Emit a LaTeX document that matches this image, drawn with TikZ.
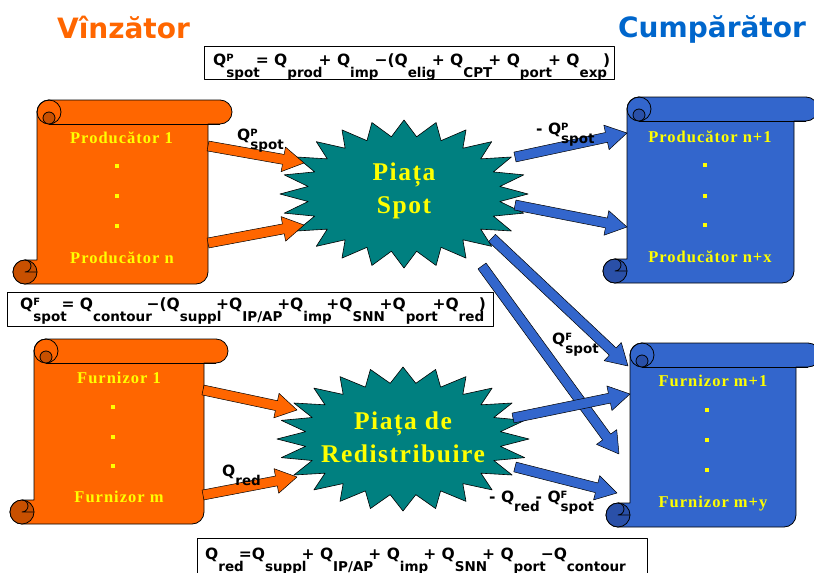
\documentclass[tikz,border=0pt]{standalone}
\usepackage{fontspec}
\setmainfont{Liberation Serif}
\newfontfamily\vsans{DejaVu Sans}
\newfontfamily\sertxt[LetterSpace=6]{Liberation Serif}
\usetikzlibrary{calc}
\definecolor{orng}{HTML}{FF6600}
\definecolor{orngdk}{HTML}{C85000}
\definecolor{blu}{HTML}{3366CC}
\definecolor{bludk}{HTML}{2A50A8}
\definecolor{titleblue}{HTML}{0066CC}
\definecolor{tealc}{HTML}{008080}
\definecolor{yel}{HTML}{FFFF00}
\newlength\sublow
\newlength\subkern
\setlength\subkern{4pt}
\newcommand\formfont{\vsans\bfseries\fontsize{15.5}{18}\selectfont\setlength\sublow{12pt}}
\newcommand\labfont{\vsans\bfseries\fontsize{15.5}{18}\selectfont\setlength\sublow{9pt}}
\newcommand\QQ[2]{Q\rlap{\raisebox{4pt}{\fontsize{10}{10}\selectfont#1}}\raisebox{-\sublow}{\fontsize{13.5}{14}\selectfont#2}\kern-\subkern\relax}
% scroll: #1 L, #2 T, #3 R, #4 B, #5 fill, #6 dark
\newcommand\scroll[6]{%
 \draw[fill=#5, line width=0.8pt] ({#1+24},{#2+12}) arc[start angle=-180, end angle=-90, radius=12] -- ({#3-12},#2) arc[start angle=-90, end angle=90, radius=12] -- ({#3-24},{#2+24}) -- ({#3-24},{#4-12}) arc[start angle=0, end angle=90, radius=12] -- ({#1+12},#4) arc[start angle=90, end angle=270, radius=12] -- ({#1+24},{#4-24}) -- cycle;
 \draw[line width=0.8pt] ({#1+36},{#2+12}) circle[radius=12];
 \draw[line width=0.8pt] ({#1+36},{#2+24}) -- ({#3-12},{#2+24});
 \draw[fill=#6, line width=0.8pt] ({#1+36},{#2+18}) circle[radius=6];
 \draw[fill=#6, line width=0.8pt] ({#1+12},{#4-12}) circle[radius=12];
 \draw[line width=0.8pt] ({#1+12},{#4-24}) arc[start angle=-90, end angle=90, radius=6] -- ({#1+24},{#4-12});
}
\newcommand\burst[4]{\draw[fill=tealc, line width=0.6pt] plot[samples at={0,...,47}, variable=\k] ({#1+#3*(1-0.22*mod(\k,2))*cos(90+7.5*\k)}, {#2-#4*(1-0.22*mod(\k,2))*sin(90+7.5*\k)}) -- cycle;}
\newcommand\barrow[3]{%
 \draw[fill=#3, draw=black, line width=0.5pt] let \p1=($(#2)-(#1)$), \n1={atan2(\y1,\x1)}, \n2={veclen(\x1,\y1)} in [shift={(#1)}, rotate=\n1] (0,-5) -- ({\n2-21},-5) -- ({\n2-21},-12.5) -- (\n2,0) -- ({\n2-21},12.5) -- ({\n2-21},5) -- (0,5) -- cycle;}
\tikzset{
 ttl/.style={font=\vsans\bfseries\fontsize{28}{30}\selectfont, anchor=base, inner sep=0},
 scrtxt/.style={font=\sertxt\bfseries\fontsize{16.5}{18}\selectfont, text=yel, anchor=base, inner sep=0},
 sqdot/.style={fill=yel, minimum size=4.5pt, inner sep=0},
 startxt/.style={font=\sertxt\bfseries\fontsize{25.5}{30}\selectfont, text=yel, anchor=base, inner sep=0},
 formula/.style={font=\formfont, anchor=base west, inner sep=0},
 qlabel/.style={font=\labfont, anchor=base west, inner sep=0},
 fbox/.style={draw=black, line width=0.8pt},
}
\begin{document}
\begin{tikzpicture}[x=1pt, y=-1pt, line join=round]
\useasboundingbox (0,0) rectangle (814,573);
% titles
\node[ttl, text=orng] (seller) at (123.5,38.3) {Vînzător};
\node[ttl, text=titleblue] (buyer) at (712,37.5) {Cumpărător};
% formula boxes
\draw[fbox] (204,46) rectangle (614,79);
\node[formula] (f1) at (213,65.5) {\QQ{P}{spot}= \QQ{}{prod}+ \QQ{}{imp}−(\QQ{}{elig}+ \QQ{}{CPT}+ \QQ{}{port}+ \QQ{}{exp})};
\draw[fbox] (7,292) rectangle (493,326);
\node[formula, font={\formfont\setlength\subkern{5.3pt}}] (f2) at (20,309) {\QQ{F}{spot}= \QQ{}{contour}−(\QQ{}{suppl}+\QQ{}{IP/AP}+\QQ{}{imp}+\QQ{}{SNN}+\QQ{}{port}+\QQ{}{red})};
\draw[fbox] (197,538) rectangle (647,576);
\node[formula, font={\formfont\setlength\subkern{5pt}}] (f3) at (205,559) {\QQ{}{red}=\QQ{}{suppl}+ \QQ{}{IP/AP}+ \QQ{}{imp}+ \QQ{}{SNN}+ \QQ{}{port}−\QQ{}{contour}};
% scrolls
\scroll{13}{100}{232}{284}{orng}{orngdk}
\scroll{603}{97}{818}{283}{blu}{bludk}
\scroll{10}{339}{228}{524}{orng}{orngdk}
\scroll{606}{343}{820}{527}{blu}{bludk}
% scroll texts
\node[scrtxt] (p1) at (121.5,143.3) {Producător 1};
\node[sqdot] (p1a) at (117,166) {};
\node[sqdot] (p1b) at (117,196) {};
\node[sqdot] (p1c) at (117,226) {};
\node[scrtxt] (pn) at (122,263.5) {Producător n};
\node[scrtxt] (q1) at (710,142.5) {Producător n+1};
\node[sqdot] (q1a) at (705,165) {};
\node[sqdot] (q1b) at (705,196) {};
\node[sqdot] (q1c) at (705,225) {};
\node[scrtxt] (qn) at (710,262.5) {Producător n+x};
\node[scrtxt] (s1) at (119,383.5) {Furnizor 1};
\node[sqdot] (s1a) at (113,407) {};
\node[sqdot] (s1b) at (113,437) {};
\node[sqdot] (s1c) at (113,466) {};
\node[scrtxt] (sm) at (119,502.5) {Furnizor m};
\node[scrtxt] (t1) at (713,386.5) {Furnizor m+1};
\node[sqdot] (t1a) at (707,410) {};
\node[sqdot] (t1b) at (707,440) {};
\node[sqdot] (t1c) at (707,470) {};
\node[scrtxt] (tm) at (713,507.5) {Furnizor m+y};
% bursts
\burst{404}{194}{124}{74}
\burst{403}{439}{126}{72}
\node[startxt] (spotA) at (404,180) {Piața};
\node[startxt] (spotB) at (404,213) {Spot};
\node[startxt] (redA) at (403,429) {Piața de};
\node[startxt] (redB) at (403,462) {Redistribuire};
% arrow end points
\coordinate (o1s) at (208,146); \coordinate (o1e) at (304,163);
\coordinate (o2s) at (208,243); \coordinate (o2e) at (304,225);
\coordinate (o3s) at (203,390); \coordinate (o3e) at (297,410);
\coordinate (o4s) at (203,495); \coordinate (o4e) at (297,477);
\coordinate (b1s) at (515,157); \coordinate (b1e) at (627,133);
\coordinate (b2s) at (515,205); \coordinate (b2e) at (627,227);
\coordinate (b3s) at (492,238); \coordinate (b3e) at (628,366);
\coordinate (b4s) at (482,266); \coordinate (b4e) at (619,454);
\coordinate (b5s) at (513,418); \coordinate (b5e) at (630,394);
\coordinate (b6s) at (515,467); \coordinate (b6e) at (617,493);
\barrow{o1s}{o1e}{orng}
\barrow{o2s}{o2e}{orng}
\barrow{o3s}{o3e}{orng}
\barrow{o4s}{o4e}{orng}
\barrow{b1s}{b1e}{blu}
\barrow{b2s}{b2e}{blu}
\barrow{b3s}{b3e}{blu}
\barrow{b4s}{b4e}{blu}
\barrow{b5s}{b5e}{blu}
\barrow{b6s}{b6e}{blu}
% labels
\node[qlabel] (l1) at (237,140.5) {\QQ{P}{spot}};
\node[qlabel] (l2) at (536,134) {- \QQ{P}{spot}};
\node[qlabel] (l3) at (552,344) {\QQ{F}{spot}};
\node[qlabel] (l4) at (222,476) {\QQ{}{red}};
\node[qlabel] (l5) at (489,502) {- \QQ{}{red}- \QQ{F}{spot}};
\end{tikzpicture}
\end{document}
